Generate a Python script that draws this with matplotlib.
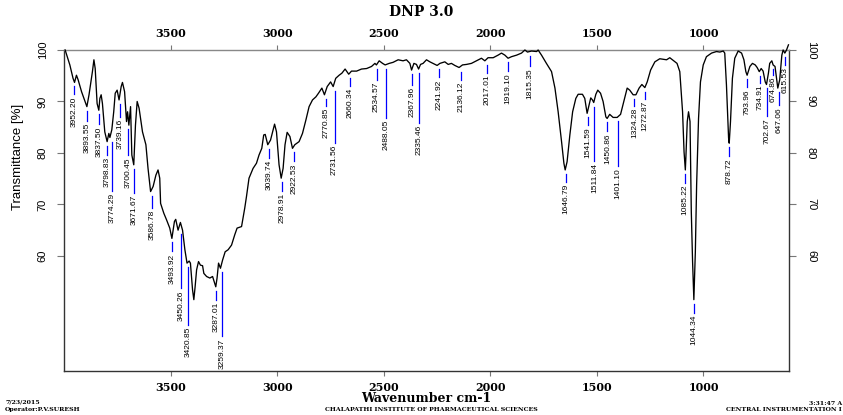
import matplotlib
matplotlib.use("Agg")
import matplotlib.pyplot as plt

# IR spectrum, transmittance (%) against wavenumber (cm-1)
wavenumber = [
    3996, 3974, 3959, 3952, 3943, 3935, 3919, 3894, 3884, 3868, 3861, 3855,
    3846, 3838, 3833, 3827, 3821, 3810, 3799, 3791, 3786, 3777, 3768, 3761,
    3752, 3743, 3733, 3727, 3717, 3708, 3703, 3697, 3689, 3683, 3674, 3666,
    3658, 3649, 3633, 3617, 3607, 3595, 3583, 3570, 3560, 3552, 3548, 3533,
    3520, 3505, 3495, 3483, 3477, 3466, 3455, 3445, 3434, 3424, 3414, 3408,
    3398, 3392, 3386, 3379, 3370, 3361, 3351, 3345, 3332, 3317, 3304, 3294,
    3289, 3283, 3276, 3267, 3257, 3245, 3231, 3215, 3200, 3189, 3168, 3153,
    3145, 3133, 3114, 3098, 3086, 3073, 3064, 3057, 3045, 3032, 3020, 3013,
    3004, 2992, 2982, 2973, 2964, 2954, 2941, 2929, 2918, 2898, 2882, 2866,
    2851, 2835, 2819, 2807, 2791, 2779, 2766, 2750, 2738, 2726, 2710, 2697,
    2682, 2665, 2652, 2628, 2605, 2581, 2558, 2542, 2535, 2522, 2506, 2494,
    2475, 2457, 2433, 2410, 2394, 2378, 2370, 2359, 2347, 2337, 2328, 2316,
    2300, 2284, 2269, 2250, 2237, 2214, 2198, 2183, 2167, 2147, 2131, 2112,
    2089, 2065, 2042, 2026, 2011, 1987, 1964, 1948, 1932, 1917, 1901, 1877,
    1854, 1838, 1826, 1807, 1783, 1776, 1760, 1737, 1713, 1697, 1682, 1666,
    1655, 1649, 1640, 1627, 1614, 1599, 1588, 1568, 1557, 1546, 1537, 1529,
    1521, 1515, 1505, 1496, 1483, 1471, 1458, 1452, 1440, 1424, 1405, 1389,
    1374, 1358, 1346, 1330, 1317, 1302, 1289, 1275, 1264, 1248, 1228, 1205,
    1173, 1158, 1139, 1124, 1111, 1098, 1091, 1085, 1082, 1076, 1070, 1063,
    1057, 1051, 1045, 1038, 1032, 1023, 1014, 1001, 986, 962, 939, 923,
    907, 900, 892, 882, 879, 873, 864, 853, 837, 821, 810, 801,
    795, 782, 770, 757, 748, 738, 729, 720, 710, 704, 695, 689,
    679, 673, 664, 657, 651, 642, 632, 626, 618, 610, 601,
]
transmittance = [
    100.0, 97.1, 94.5, 93.7, 95.1, 94.2, 91.9, 89.0, 91.3, 95.8, 98.1, 96.4,
    89.6, 88.3, 90.6, 91.3, 89.6, 84.1, 82.2, 83.8, 83.0, 84.5, 88.0, 91.6,
    92.2, 90.3, 92.9, 93.7, 91.9, 86.1, 88.0, 85.4, 89.0, 79.6, 77.7, 85.4,
    90.0, 88.7, 84.1, 81.6, 77.0, 72.5, 73.5, 75.7, 76.7, 75.1, 70.2, 68.3,
    67.0, 65.4, 63.4, 66.7, 67.1, 65.0, 66.5, 65.0, 61.2, 58.6, 59.0, 58.6,
    53.4, 51.5, 54.0, 57.3, 58.9, 58.2, 58.1, 56.6, 56.0, 55.7, 56.0, 54.7,
    54.0, 55.7, 58.6, 57.6, 59.2, 60.8, 61.2, 62.1, 64.1, 65.4, 65.7, 69.3,
    71.5, 75.1, 77.0, 78.0, 79.6, 80.9, 83.5, 83.6, 81.6, 82.5, 84.5, 85.6,
    84.1, 77.7, 75.1, 77.0, 81.6, 84.0, 83.2, 80.9, 81.6, 82.2, 83.8, 86.4,
    89.0, 90.3, 90.9, 91.6, 92.6, 91.3, 92.9, 93.8, 92.9, 94.5, 95.1, 95.5,
    96.3, 95.3, 95.9, 95.9, 96.3, 96.4, 96.8, 97.4, 97.1, 97.9, 97.4, 97.1,
    97.4, 97.6, 98.1, 97.9, 98.1, 97.4, 96.1, 97.4, 97.2, 96.3, 97.2, 97.4,
    98.1, 97.7, 97.4, 97.0, 97.4, 97.7, 97.2, 97.4, 97.0, 96.6, 97.1, 97.2,
    97.4, 97.9, 98.4, 97.9, 98.5, 98.5, 99.0, 99.4, 99.0, 98.4, 98.7, 99.0,
    99.4, 100.0, 99.6, 99.8, 99.7, 100.0, 99.0, 97.4, 95.8, 92.6, 88.0, 82.2,
    78.0, 76.7, 78.3, 83.5, 88.0, 90.6, 91.4, 91.4, 90.6, 87.7, 89.3, 90.7,
    90.3, 89.8, 91.4, 92.2, 91.6, 90.0, 87.0, 86.7, 87.5, 86.9, 86.9, 87.5,
    90.0, 92.6, 92.2, 91.3, 91.3, 92.6, 93.3, 92.7, 93.8, 96.1, 97.7, 98.3,
    98.1, 98.5, 97.9, 97.4, 95.8, 88.0, 80.2, 76.7, 79.6, 86.1, 88.0, 86.1,
    68.6, 58.9, 51.5, 60.8, 73.8, 86.7, 93.8, 97.1, 98.7, 99.4, 99.7, 99.6,
    99.8, 99.4, 93.2, 82.9, 81.9, 86.1, 94.5, 98.4, 99.8, 99.4, 98.1, 95.8,
    95.1, 96.8, 97.4, 97.1, 96.6, 95.8, 96.4, 95.9, 93.8, 93.3, 95.5, 97.4,
    97.9, 97.1, 96.8, 94.5, 92.6, 94.2, 99.0, 100.0, 99.4, 100.0, 101.0,
]

# picked peaks and the transmittance at each
peak_wn = [
    3952.20, 3893.55, 3837.50, 3798.83, 3774.29, 3739.16, 3700.45, 3671.67,
    3586.78, 3493.92, 3450.26, 3420.85, 3287.01, 3259.37, 3039.74, 2978.91,
    2922.53, 2770.85, 2731.56, 2660.34, 2534.57, 2488.05, 2367.96, 2335.46,
    2241.92, 2136.12, 2017.01, 1919.10, 1815.35, 1646.79, 1541.59, 1511.84,
    1450.86, 1401.10, 1324.28, 1272.87, 1085.22, 1044.34, 878.72, 793.96,
    734.91, 702.67, 674.86, 647.06, 615.53,
]
peak_pct = [
    93.7, 89.0, 88.3, 82.2, 83.0, 90.3, 85.4, 77.7,
    72.5, 63.4, 65.0, 58.6, 54.0, 57.6, 81.6, 75.1,
    80.9, 91.3, 92.9, 95.3, 97.1, 97.1, 96.1, 96.3,
    97.0, 96.6, 97.9, 98.4, 99.6, 76.7, 87.7, 89.8,
    86.7, 86.9, 91.3, 92.7, 76.7, 51.5, 81.9, 95.1,
    95.8, 93.3, 97.1, 92.6, 99.4,
]
# how far (px) below its peak each label starts
label_drop = [
    14, 16, 16, 15, 55, 19, 32, 30,
    18, 15, 60, 64, 15, 70, 15, 15,
    15, 13, 58, 14, 17, 55, 17, 56,
    14, 14, 14, 15, 16, 14, 14, 60,
    15, 51, 13, 13, 15, 15, 15, 14,
    13, 34, 12, 19, 14,
]

W, H = 843, 415
Y_MIN, Y_MAX = 37.7, 100.0
AX_L, AX_R, AX_T, AX_B = 64.3, 789.3, 50.0, 370.7
PX_PER_PCT = (AX_B - AX_T) / (Y_MAX - Y_MIN)

SERIF = ["DejaVu Serif"]
SANS = ["Liberation Sans", "DejaVu Sans"]
NARROW = ["Liberation Sans Narrow", "Liberation Sans", "DejaVu Sans"]

fig = plt.figure(figsize=(W / 100, H / 100), dpi=100)
ax = fig.add_axes([AX_L / W, (H - AX_B) / H, (AX_R - AX_L) / W, (AX_B - AX_T) / H])

ax.plot(wavenumber, transmittance, color="black", lw=0.95, clip_on=False, zorder=3)

for w, t, d in zip(peak_wn, peak_pct, label_drop):
    text_top = t - d / PX_PER_PCT
    ax.plot([w, w], [t - 4 / PX_PER_PCT, text_top + 2 / PX_PER_PCT],
            color="#0000ff", lw=0.9, zorder=2)
    ax.text(w, text_top, f"{w:.2f}", rotation=90, ha="center", va="top",
            fontsize=6, family=NARROW, color="black")

ax.set_xlim(4000, 597)
ax.set_ylim(Y_MIN, Y_MAX)
ax.set_xticks([3500, 3000, 2500, 2000, 1500, 1000])
ax.set_yticks([60, 70, 80, 90, 100])

for side in ("left", "bottom", "right"):
    ax.spines[side].set_color("#333333")
ax.spines["top"].set_color("#888888")
for s in ax.spines.values():
    s.set_linewidth(1.0)

ax.tick_params(axis="x", which="major", top=True, bottom=True, labeltop=True,
               labelbottom=True, direction="out", length=3.6, pad=4.3,
               color="#777777", labelsize=8)
ax.tick_params(axis="y", which="major", left=True, right=True, labelleft=True,
               labelright=True, direction="out", length=5, color="#777777",
               labelsize=8)
ax.tick_params(axis="y", which="major", pad=7)
for lab in ax.get_xticklabels():
    lab.set_family(SERIF)
    lab.set_fontweight("bold")
for tick in ax.xaxis.get_major_ticks():
    tick.label2.set_family(SERIF)
    tick.label2.set_fontweight("bold")
for tick in ax.yaxis.get_major_ticks():
    tick.label1.set_rotation(90)
    tick.label1.set_family(SANS)
    tick.label1.set_va("center")
    tick.label2.set_rotation(270)
    tick.label2.set_family(SANS)
    tick.label2.set_va("center")

fig.text(421 / W, 1 - 12 / H, "DNP 3.0", ha="center", va="center",
         fontsize=10, family=SERIF, fontweight="bold")
fig.text(426 / W, 1 - 398 / H, "Wavenumber cm-1", ha="center", va="center",
         fontsize=9, family=SERIF, fontweight="bold")
fig.text(18 / W, 1 - 157 / H, "Transmittance [%]", ha="center", va="center",
         rotation=90, fontsize=9.5, family=SANS)

# instrument footer
fig.text(5 / W, 1 - 402 / H, "7/23/2015", ha="left", va="center",
         fontsize=4.5, family=SERIF, fontweight="bold")
fig.text(5 / W, 1 - 409 / H, "Operator:P.V.SURESH", ha="left", va="center",
         fontsize=4.5, family=SERIF, fontweight="bold")
fig.text(431 / W, 1 - 409 / H, "CHALAPATHI INSTITUTE OF PHARMACEUTICAL SCIENCES",
         ha="center", va="center", fontsize=4.5, family=SERIF, fontweight="bold")
fig.text(842 / W, 1 - 403 / H, "3:31:47 A", ha="right", va="center",
         fontsize=4.5, family=SERIF, fontweight="bold")
fig.text(842 / W, 1 - 409 / H, "CENTRAL INSTRUMENTATION I", ha="right", va="center",
         fontsize=4.5, family=SERIF, fontweight="bold")

fig.savefig("out.png", dpi=100)
